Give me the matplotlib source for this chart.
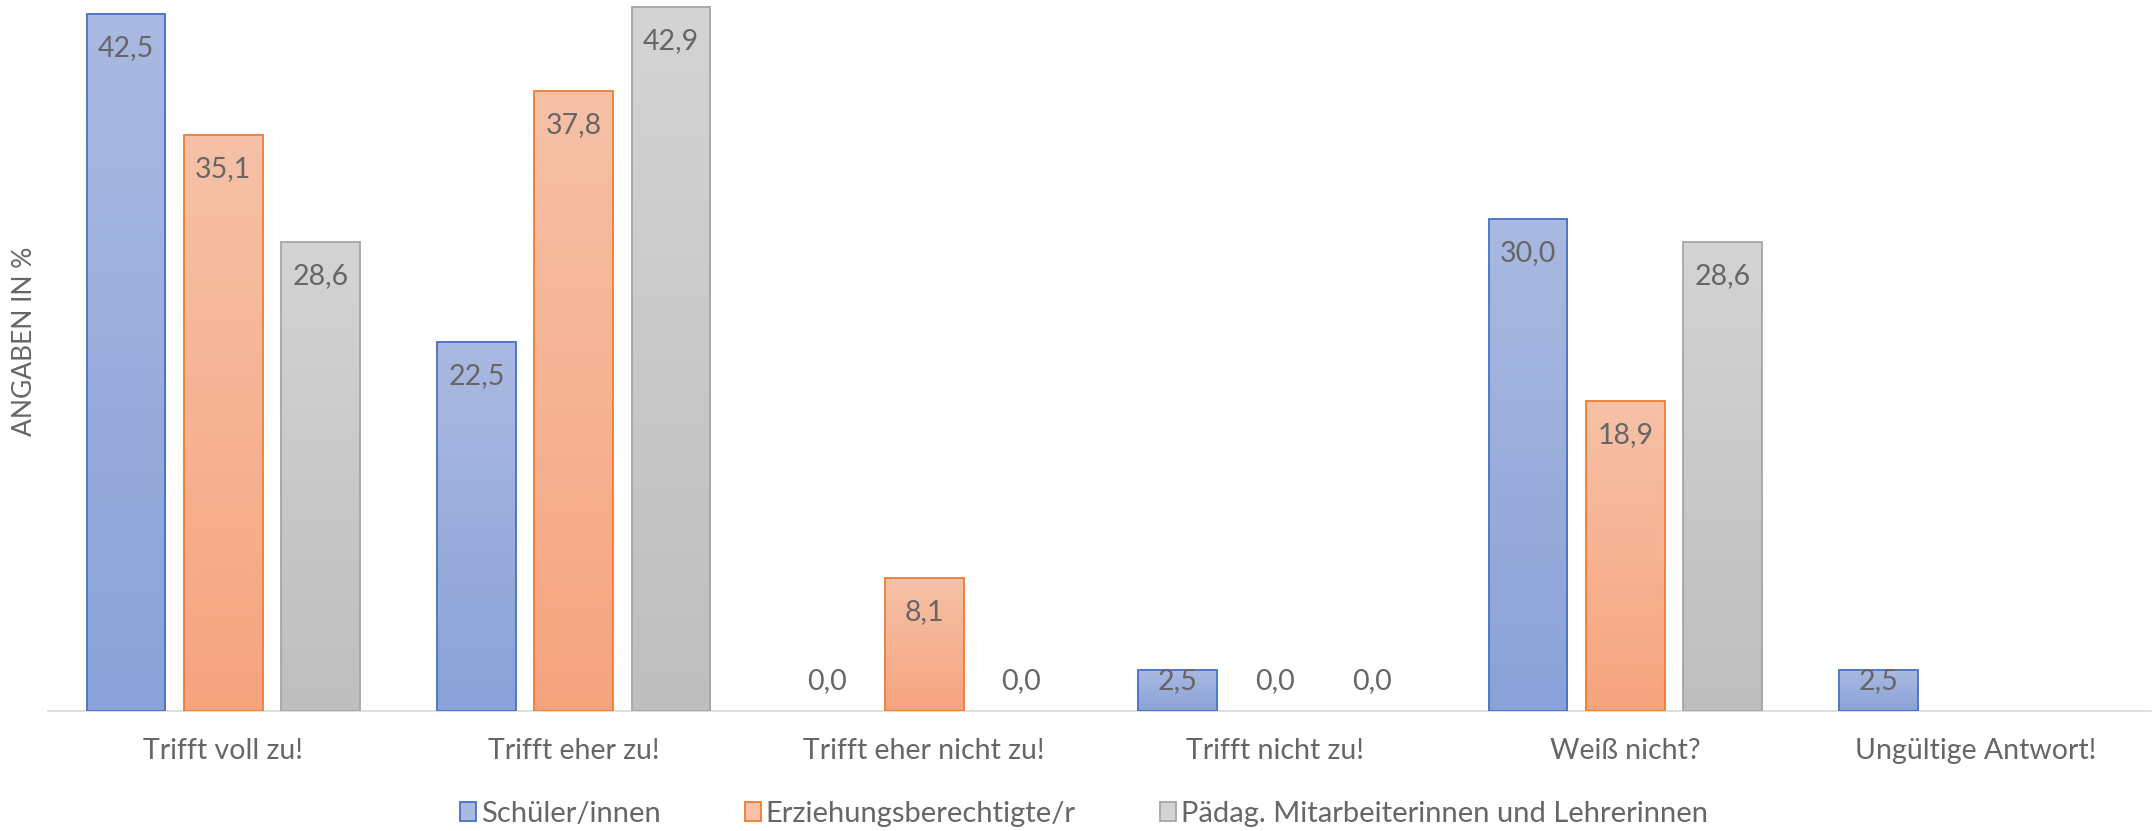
import numpy as np
from matplotlib import pyplot as plt
from matplotlib.colors import LinearSegmentedColormap
from matplotlib.patches import Patch

# Daten
kategorien = ['Trifft voll zu!', 'Trifft eher zu!', 'Trifft eher nicht zu!',
              'Trifft nicht zu!', 'Weiß nicht?', 'Ungültige Antwort!']
serien = ['Schüler/innen', 'Erziehungsberechtigte/r',
          'Pädag. Mitarbeiterinnen und Lehrerinnen']
schueler = [42.5, 22.5, 0.0, 2.5, 30.0, 2.5]
eltern = [35.1, 37.8, 8.1, 0.0, 18.9, np.nan]
lehrer = [28.6, 42.9, 0.0, 0.0, 28.6, np.nan]

# Farben (oben hell, unten dunkler, Rand)
farben = [('#AAB9E1', '#8AA2D8', '#4472C4'),
          ('#F6C1A7', '#F6A47E', '#ED7D31'),
          ('#D4D4D4', '#BEBEBE', '#A5A5A5')]
textfarbe = '#666666'

plt.rcParams['font.family'] = ['Lato', 'DejaVu Sans']

fig = plt.figure(figsize=(21.55, 8.31), dpi=100)
ax = fig.add_axes([48 / 2155, 0.1449, 2103 / 2155, 0.8551])

x = np.arange(len(kategorien))
breite = 0.2246
abstand = 0.2773
grad = np.linspace(0, 1, 256).reshape(-1, 1)

for i, (werte, (oben, unten, rand)) in enumerate(zip([schueler, eltern, lehrer], farben)):
    pos = x + (i - 1) * abstand
    cmap = LinearSegmentedColormap.from_list('g%d' % i, [oben, unten])
    bars = ax.bar(pos, np.nan_to_num(werte), breite, facecolor='none',
                  edgecolor=rand, linewidth=1.3, zorder=3)
    for rect, v in zip(bars, werte):
        if np.isnan(v) or v == 0:
            rect.set_visible(False)
        if np.isnan(v):
            continue
        if v > 0:
            ax.imshow(grad, cmap=cmap, aspect='auto', origin='upper',
                      extent=[rect.get_x(), rect.get_x() + rect.get_width(), 0, v],
                      zorder=2, interpolation='bilinear')
        # Datenbeschriftung
        xc = rect.get_x() + rect.get_width() / 2
        if v * 16.4 - 34 > 30:
            ax.annotate(f'{v:.1f}'.replace('.', ','), (xc, v), xytext=(0, -34),
                        textcoords='offset pixels', ha='center', va='center',
                        fontsize=20.5, color=textfarbe, zorder=4)
        else:
            ax.annotate(f'{v:.1f}'.replace('.', ','), (xc, 0), xytext=(0, 30),
                        textcoords='offset pixels', ha='center', va='center',
                        fontsize=20.5, color=textfarbe, zorder=4)

ax.set_xlim(-0.5, 5.5)
ax.set_ylim(0, 43.35)

for s in ['top', 'right', 'left']:
    ax.spines[s].set_visible(False)
ax.spines['bottom'].set_color('#D9D9D9')
ax.spines['bottom'].set_linewidth(1.2)
ax.spines['bottom'].set_zorder(1)

ax.set_yticks([])
ax.set_xticks(x)
ax.set_xticklabels(kategorien, fontsize=20.5, color=textfarbe)
ax.tick_params(axis='x', length=0, pad=20)

fig.text(25 / 2155, 0.589, 'ANGABEN IN %', rotation=90, ha='center', va='center',
         fontsize=19, color=textfarbe)

handles = [Patch(facecolor=f[0], edgecolor=f[2], linewidth=1.3) for f in farben]
fig.legend(handles, serien, loc='center', bbox_to_anchor=(0.503, 1 - 814 / 831),
           ncol=3, frameon=False, fontsize=21, labelcolor=textfarbe,
           handlelength=0.55, handleheight=0.65, handletextpad=0.15,
           columnspacing=2.9)

fig.savefig('out.png', dpi=100)
